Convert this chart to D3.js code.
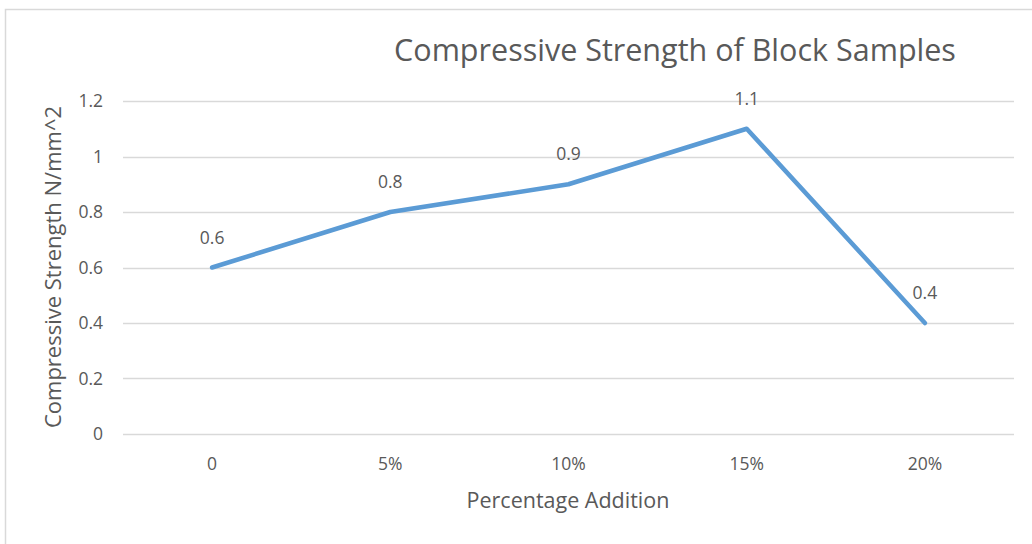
<!DOCTYPE html>
<html><head><meta charset="utf-8">
<script src="https://cdn.jsdelivr.net/npm/d3@7"></script>
<style>body{margin:0;background:#fff;}svg{display:block;}text{font-family:"Open Sans","Noto Sans",sans-serif;fill:#595959;}</style>
</head><body>
<svg id="c" width="1032" height="544"></svg>
<script>
const categories = ["0","5%","10%","15%","20%"];
const values = [0.6,0.8,0.9,1.1,0.4];
const yTicks = [0,0.2,0.4,0.6,0.8,1,1.2];
const title = "Compressive Strength of Block Samples";
const xTitle = "Percentage Addition";
const yTitle = "Compressive Strength N/mm^2";

(function(){
const FF = '"Open Sans","Noto Sans",sans-serif';
const svg = d3.select("#c");
svg.append("rect").attr("x",5.5).attr("y",9.5).attr("width",1040).attr("height",560)
  .attr("fill","#fff").attr("stroke","#d9d9d9").attr("stroke-width",1.5);

const pL=123, pR=1014, pT=101, pB=434;
const x = d3.scaleBand().domain(categories).range([pL,pR]);
const y = d3.scaleLinear().domain([0,1.2]).range([pB,pT]);

svg.append("g").selectAll("line").data(yTicks).join("line")
  .attr("x1",pL).attr("x2",pR).attr("y1",d=>Math.round(y(d))+0.5).attr("y2",d=>Math.round(y(d))+0.5)
  .attr("stroke","#d9d9d9").attr("stroke-width",1.3);

const yAxis = svg.append("g").attr("transform",`translate(${pL},0)`)
  .call(d3.axisLeft(y).tickValues(yTicks).tickSize(0).tickPadding(20).tickFormat(d=>String(d)));
yAxis.select(".domain").remove();
yAxis.selectAll("text").style("font-size","17.5px").attr("fill","#595959").style("font-family",FF);

const xAxis = svg.append("g").attr("transform",`translate(0,${pB})`)
  .call(d3.axisBottom(x).tickSize(0).tickPadding(24));
xAxis.select(".domain").remove();
xAxis.selectAll("text").style("font-size","17.5px").attr("fill","#595959").style("font-family",FF);

const line = d3.line().x((d,i)=>x(categories[i])+x.bandwidth()/2).y(d=>y(d));
svg.append("path").datum(values).attr("d",line).attr("fill","none")
  .attr("stroke","#5b9bd5").attr("stroke-width",4.5).attr("stroke-linejoin","round").attr("stroke-linecap","round");

svg.selectAll("text.lbl").data(values).join("text").attr("class","lbl")
  .attr("x",(d,i)=>x(categories[i])+x.bandwidth()/2).attr("y",d=>y(d)-24)
  .attr("text-anchor","middle").style("font-size","17.5px").text(d=>String(d));

svg.append("text").attr("x",675).attr("y",61).attr("text-anchor","middle")
  .style("font-size","30.5px").text(title);
svg.append("text").attr("x",568).attr("y",508).attr("text-anchor","middle")
  .style("font-size","21.5px").text(xTitle);
svg.append("text").attr("transform",`translate(61,267) rotate(-90)`).attr("text-anchor","middle")
  .style("font-size","22px").text(yTitle);
})();
</script>
</body></html>
